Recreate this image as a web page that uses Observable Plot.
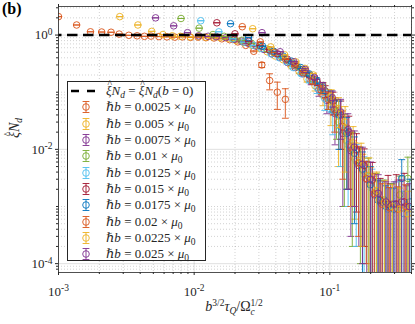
<!DOCTYPE html>
<html>
<head>
<meta charset="utf-8">
<script src="https://cdn.jsdelivr.net/npm/d3@7"></script>
<script src="https://cdn.jsdelivr.net/npm/@observablehq/plot@0.6"></script>
<style>
  html, body { margin: 0; padding: 0; background: #fff; }
  #wrap { position: relative; width: 415px; height: 324px; font-family: "Liberation Serif", "DejaVu Serif", serif; color: #262626; }
  #chart { position: absolute; left: 0; top: 0; }
  .lbl { position: absolute; white-space: nowrap; line-height: 1; }
  #tag { left: 2px; top: 1px; font-weight: bold; font-size: 16px; color: #000; }
  #ylab { left: 15px; top: 128px; font-size: 14px; transform: translate(-50%, -50%) rotate(-90deg); }
  #xlab { left: 234px; top: 299px; font-size: 14px; transform: translateX(-50%); }
  .sub { font-size: 9.5px; position: relative; top: 3px; }
  .sup { font-size: 9.5px; position: relative; top: -5px; }
  .stack { display: inline-block; vertical-align: -4px; font-size: 9.5px; line-height: 9px; text-align: left; }
  .hat { position: relative; display: inline-block; font-style: italic; }
  .hat::after { content: "^"; position: absolute; left: 1.5px; top: -5px; font-style: normal; font-size: 0.75em; }
  #legend { position: absolute; left: 67px; top: 81px; width: 139px; height: 180px; border: 1px solid #262626; background: #fff; box-sizing: border-box; padding-top: 1px; }
  .row { height: 16.3px; display: flex; align-items: center; font-size: 13px; white-space: nowrap; }
  .row svg { flex: none; width: 36px; height: 16px; }
  .row span.t { margin-left: 2px; }
</style>
</head>
<body>
<div id="wrap">
  <div id="chart"></div>
  <div class="lbl" id="tag">(b)</div>
  <div class="lbl" id="ylab"><span class="hat">ξ</span><i>N</i><span class="sub"><i>d</i></span></div>
  <div class="lbl" id="xlab"><i>b</i><span class="sup">3/2</span><i>τ</i><span class="sub"><i>Q</i></span>/Ω<span class="stack">1/2<br><i>c</i></span></div>
  <div id="legend"></div>
</div>
<script>
// ---- data ----
const bValues = [0.0025, 0.005, 0.0075, 0.01, 0.0125, 0.015, 0.0175, 0.02, 0.0225, 0.025];
const bLabels = ["0.0025", "0.005", "0.0075", "0.01", "0.0125", "0.015", "0.0175", "0.02", "0.0225", "0.025"];
const seriesColors = ["#D95319", "#EDB120", "#7E2F8E", "#77AC30", "#4DBEEE", "#A2142F", "#0072BD", "#D95319", "#EDB120", "#7E2F8E"];
const omegaC = 1;
const tauQ = [8, 10.88, 13.76, 16.64, 19.52, 22.4, 26.4, 30.4, 34.4, 38.4, 44, 50.4, 57.6, 65.6, 75.2, 85.6,
              97.6, 112, 128, 146.4, 168, 192, 220, 252, 288, 328, 376, 432, 496, 568, 656, 752];

const y0025 = [2.1, 1.5, 1.14, 1.13, 1.12, 1.04, 0.99, 0.97, 0.95, 0.96, 0.94, 0.93, 0.92, 0.93, 0.91, 0.92, 0.90, 0.89, 0.86, 0.83, 0.76, 0.66, 0.52, 0.30, 0.16, 0.10, 0.075];
const e0025 = [0, 0, 0, 0, 0, 0, 0, 0, 0, 0, 0, 0, 0, 0, 0, 0, 0, 0, 0, 0, 0, 0, 0.01, 0.03, 0.05, 0.05, 0.04];
const y0050 = [2.1, 1.5, 1.16, 1.02, 0.97, 0.95, 0.93, 0.94, 0.92, 0.93, 0.90, 0.87, 0.80, 0.74, 0.66, 0.59, 0.51, 0.43, 0.37, 0.29, 0.23, 0.17, 0.13, 0.088, 0.056, 0.03, 0.014, 0.0068, 0.0042, 0.0024, 0.0013, 0.0011];
const e0050 = [0, 0, 0, 0, 0, 0, 0, 0, 0, 0, 0, 0, 0, 0, 0, 0, 0, 0, 0, 0.01, 0.015, 0.02, 0.025, 0.03, 0.03, 0.025, 0.012, 0.0062, 0.004, 0.0025, 0.0015, 0.0014];
const y0075 = [2.0, 1.45, 1.1, 0.97, 0.95, 0.94, 0.90, 0.84, 0.78, 0.72, 0.64, 0.56, 0.47, 0.41, 0.33, 0.27, 0.21, 0.155, 0.11, 0.072, 0.042, 0.019, 0.0095, 0.0052, 0.003, 0.0016, 0.0012, 0.001, 0.0011, 0.0009];
const e0075 = [0, 0, 0, 0, 0, 0, 0, 0, 0, 0, 0, 0, 0, 0, 0.008, 0.01, 0.015, 0.02, 0.025, 0.03, 0.03, 0.018, 0.0092, 0.005, 0.0032, 0.0018, 0.0016, 0.0015, 0.0018, 0.0014];
const y0100 = [1.95, 1.32, 1.02, 0.95, 0.88, 0.81, 0.72, 0.64, 0.57, 0.50, 0.42, 0.34, 0.28, 0.22, 0.17, 0.12, 0.08, 0.045, 0.021, 0.010, 0.0055, 0.0034, 0.0018, 0.0013, 0.0011, 0.0016, 0.0031];
const e0100 = [0, 0, 0, 0, 0, 0, 0, 0, 0, 0, 0, 0.006, 0.01, 0.012, 0.018, 0.025, 0.03, 0.03, 0.02, 0.0098, 0.0054, 0.0036, 0.002, 0.0016, 0.0014, 0.0018, 0.0042];
const y0125 = [1.78, 1.14, 0.86, 0.75, 0.66, 0.58, 0.47, 0.40, 0.34, 0.27, 0.21, 0.165, 0.12, 0.078, 0.048, 0.025, 0.012, 0.0062, 0.0036, 0.0021, 0.0012, 0.0009, 0.0011, 0.00075];
const e0125 = [0, 0, 0, 0, 0, 0, 0, 0, 0.005, 0.01, 0.012, 0.02, 0.025, 0.03, 0.03, 0.02, 0.011, 0.006, 0.0038, 0.0024, 0.0015, 0.0012, 0.0016, 0.0011];
const y0150 = [1.64, 1.05, 0.78, 0.66, 0.55, 0.47, 0.38, 0.31, 0.25, 0.2, 0.15, 0.105, 0.07, 0.04, 0.02, 0.0098, 0.0052, 0.0029, 0.0013, 0.0011, 0.0011, 0.0012];
const e0150 = [0, 0, 0, 0, 0, 0, 0.005, 0.008, 0.01, 0.015, 0.02, 0.025, 0.03, 0.03, 0.018, 0.009, 0.005, 0.003, 0.0018, 0.0024, 0.0025, 0.0026];
const y0175 = [1.58, 0.9, 0.64, 0.52, 0.43, 0.35, 0.27, 0.21, 0.16, 0.12, 0.075, 0.04, 0.019, 0.0085, 0.0045, 0.0024, 0.0013, 0.001, 0.0009, 0.0031, 0.0012];
const e0175 = [0, 0, 0, 0, 0.003, 0.006, 0.01, 0.013, 0.02, 0.025, 0.03, 0.03, 0.017, 0.008, 0.0045, 0.0026, 0.0016, 0.0013, 0.0012, 0.0035, 0.0018];
const y0200 = [1.4, 0.76, 0.5, 0.38, 0.29, 0.22, 0.155, 0.11, 0.075, 0.05, 0.025, 0.011, 0.0058, 0.0031, 0.0017, 0.0011, 0.00095, 0.0009, 0.001];
const e0200 = [0, 0, 0, 0.003, 0.006, 0.01, 0.015, 0.02, 0.025, 0.03, 0.022, 0.01, 0.0055, 0.003, 0.002, 0.0014, 0.0012, 0.0013, 0.0014];
const y0225 = [1.29, 0.62, 0.45, 0.34, 0.26, 0.2, 0.13, 0.085, 0.052, 0.03, 0.013, 0.0065, 0.0035, 0.0019, 0.0012, 0.001, 0.0009, 0.00075];
const e0225 = [0, 0, 0.002, 0.005, 0.008, 0.012, 0.018, 0.025, 0.028, 0.026, 0.012, 0.0063, 0.0036, 0.0021, 0.0016, 0.0014, 0.0012, 0.0011];
const y0250 = [1.1, 0.51, 0.34, 0.25, 0.18, 0.13, 0.08, 0.045, 0.022, 0.011, 0.0055, 0.003, 0.0017, 0.0012, 0.0011, 0.0012, 0.001];
const e0250 = [0, 0, 0.004, 0.008, 0.012, 0.018, 0.025, 0.03, 0.02, 0.01, 0.0054, 0.003, 0.0019, 0.0015, 0.0016, 0.0017, 0.0015];

const yValues = [y0025, y0050, y0075, y0100, y0125, y0150, y0175, y0200, y0225, y0250];
const eValues = [e0025, e0050, e0075, e0100, e0125, e0150, e0175, e0200, e0225, e0250];

const referenceLevel = [1];
const xMajor = [1e-3, 1e-2, 1e-1];
const xMinor = [2e-3, 3e-3, 4e-3, 5e-3, 6e-3, 7e-3, 8e-3, 9e-3, 2e-2, 3e-2, 4e-2, 5e-2, 6e-2, 7e-2, 8e-2, 9e-2, 2e-1, 3e-1, 4e-1];
const yMajor = [1e-4, 1e-2, 1];
const yMinor = [8e-5, 9e-5, 2e-4, 3e-4, 4e-4, 5e-4, 6e-4, 7e-4, 8e-4, 9e-4, 1e-3, 2e-3, 3e-3, 4e-3, 5e-3, 6e-3, 7e-3, 8e-3, 9e-3,
                2e-2, 3e-2, 4e-2, 5e-2, 6e-2, 7e-2, 8e-2, 9e-2, 1e-1, 2e-1, 3e-1, 4e-1, 5e-1, 6e-1, 7e-1, 8e-1, 9e-1, 2, 3];
const xDomain = [1e-3, 0.4];
const yDomain = [7e-5, 3.16];

// ---- build table ----
const rows = [];
bValues.forEach((b, s) => {
  yValues[s].forEach((y, j) => {
    const e = eValues[s][j];
    const x = Math.pow(b, 1.5) * tauQ[j] / Math.sqrt(omegaC);
    rows.push({s, x, y, e, lo: y - e > 0 ? y - e : 1e-7, hi: y + e, loCap: y - e > 0});
  });
});

const cap = {draw(ctx) { ctx.moveTo(-3.4, 0); ctx.lineTo(3.4, 0); }};
const axisColor = "#262626";
const supFmt = v => "10^" + Math.round(Math.log10(v));
const blank = () => "";

const marks = [
  Plot.ruleX(xMinor, {stroke: axisColor, strokeOpacity: 0.35, strokeWidth: 0.6, strokeDasharray: "1,2"}),
  Plot.ruleY(yMinor, {stroke: axisColor, strokeOpacity: 0.35, strokeWidth: 0.6, strokeDasharray: "1,2"}),
  Plot.ruleX(xMajor, {stroke: axisColor, strokeOpacity: 0.18, strokeWidth: 0.8}),
  Plot.ruleY(yMajor, {stroke: axisColor, strokeOpacity: 0.18, strokeWidth: 0.8})
];
bValues.forEach((b, s) => {
  const d = rows.filter(r => r.s === s);
  const c = seriesColors[s];
  marks.push(
    Plot.ruleX(d, {x: "x", y1: "lo", y2: "hi", stroke: c, strokeWidth: 0.9, clip: true}),
    Plot.dot(d, {x: "x", y: "hi", symbol: cap, r: 3, stroke: c, fill: "none", strokeWidth: 0.9, clip: true}),
    Plot.dot(d.filter(r => r.loCap), {x: "x", y: "lo", symbol: cap, r: 3, stroke: c, fill: "none", strokeWidth: 0.9, clip: true}),
    Plot.dot(d, {x: "x", y: "y", r: 3.3, stroke: c, fill: "none", strokeWidth: 0.9, clip: true})
  );
});
marks.push(
  Plot.ruleY(referenceLevel, {stroke: "#000", strokeWidth: 2.5, strokeDasharray: "10.5,5.5", strokeDashoffset: 7}),
  Plot.frame({stroke: axisColor, strokeWidth: 0.8}),
  Plot.axisX(xMajor, {anchor: "bottom", tickSize: 3, tickPadding: 11, tickFormat: supFmt, label: null}),
  Plot.axisX(xMinor, {anchor: "bottom", tickSize: 2, tickFormat: blank, label: null}),
  Plot.axisX(xMajor, {anchor: "top", tickSize: 3, tickFormat: blank, label: null}),
  Plot.axisX(xMinor, {anchor: "top", tickSize: 2, tickFormat: blank, label: null}),
  Plot.axisY(yMajor, {anchor: "left", tickSize: 3, tickPadding: 3, tickFormat: supFmt, label: null}),
  Plot.axisY(yMinor, {anchor: "left", tickSize: 2, tickFormat: blank, label: null}),
  Plot.axisY(yMajor, {anchor: "right", tickSize: 3, tickFormat: blank, label: null}),
  Plot.axisY(yMinor, {anchor: "right", tickSize: 2, tickFormat: blank, label: null})
);

const chart = Plot.plot({
  width: 415,
  height: 324,
  marginLeft: 58,
  marginRight: 4,
  marginTop: 6,
  marginBottom: 52,
  style: {fontFamily: "'Liberation Serif', 'DejaVu Serif', serif", fontSize: "13px", color: axisColor, background: "transparent"},
  x: {type: "log", domain: xDomain},
  y: {type: "log", domain: yDomain},
  marks
});
document.getElementById("chart").appendChild(chart);

// superscript exponents on tick labels
d3.select(chart).selectAll("text").each(function () {
  const m = /^10\^(-?\d+)$/.exec(this.textContent);
  if (!m) return;
  const t = d3.select(this);
  t.text(null);
  t.append("tspan").text("10");
  t.append("tspan").attr("dy", "-0.45em").attr("font-size", "9.5px").text(m[1]);
});

// legend
const legend = d3.select("#legend");
const hatXi = '<span class="hat">ξ</span><i>N</i><span class="sub"><i>d</i></span>';
const r0 = legend.append("div").attr("class", "row");
const s0 = r0.append("svg");
s0.append("line").attr("x1", 3).attr("x2", 28).attr("y1", 8).attr("y2", 8)
  .attr("stroke", "#000").attr("stroke-width", 2.5).attr("stroke-dasharray", "8,8");
r0.append("span").attr("class", "t").html(hatXi + ' = ' + hatXi + '(<i>b</i> = 0)');
bLabels.forEach((lab, s) => {
  const row = legend.append("div").attr("class", "row");
  const sv = row.append("svg");
  const c = seriesColors[s];
  sv.append("line").attr("x1", 18).attr("x2", 18).attr("y1", 2.5).attr("y2", 13.5).attr("stroke", c).attr("stroke-width", 0.9);
  sv.append("line").attr("x1", 14.6).attr("x2", 21.4).attr("y1", 2.5).attr("y2", 2.5).attr("stroke", c).attr("stroke-width", 0.9);
  sv.append("line").attr("x1", 14.6).attr("x2", 21.4).attr("y1", 13.5).attr("y2", 13.5).attr("stroke", c).attr("stroke-width", 0.9);
  sv.append("circle").attr("cx", 18).attr("cy", 8).attr("r", 3.3).attr("fill", "none").attr("stroke", c).attr("stroke-width", 0.9);
  row.append("span").attr("class", "t").html('<i>ℏb</i> = ' + lab + ' × <i>μ</i><span class="sub">0</span>');
});
</script>
</body>
</html>
